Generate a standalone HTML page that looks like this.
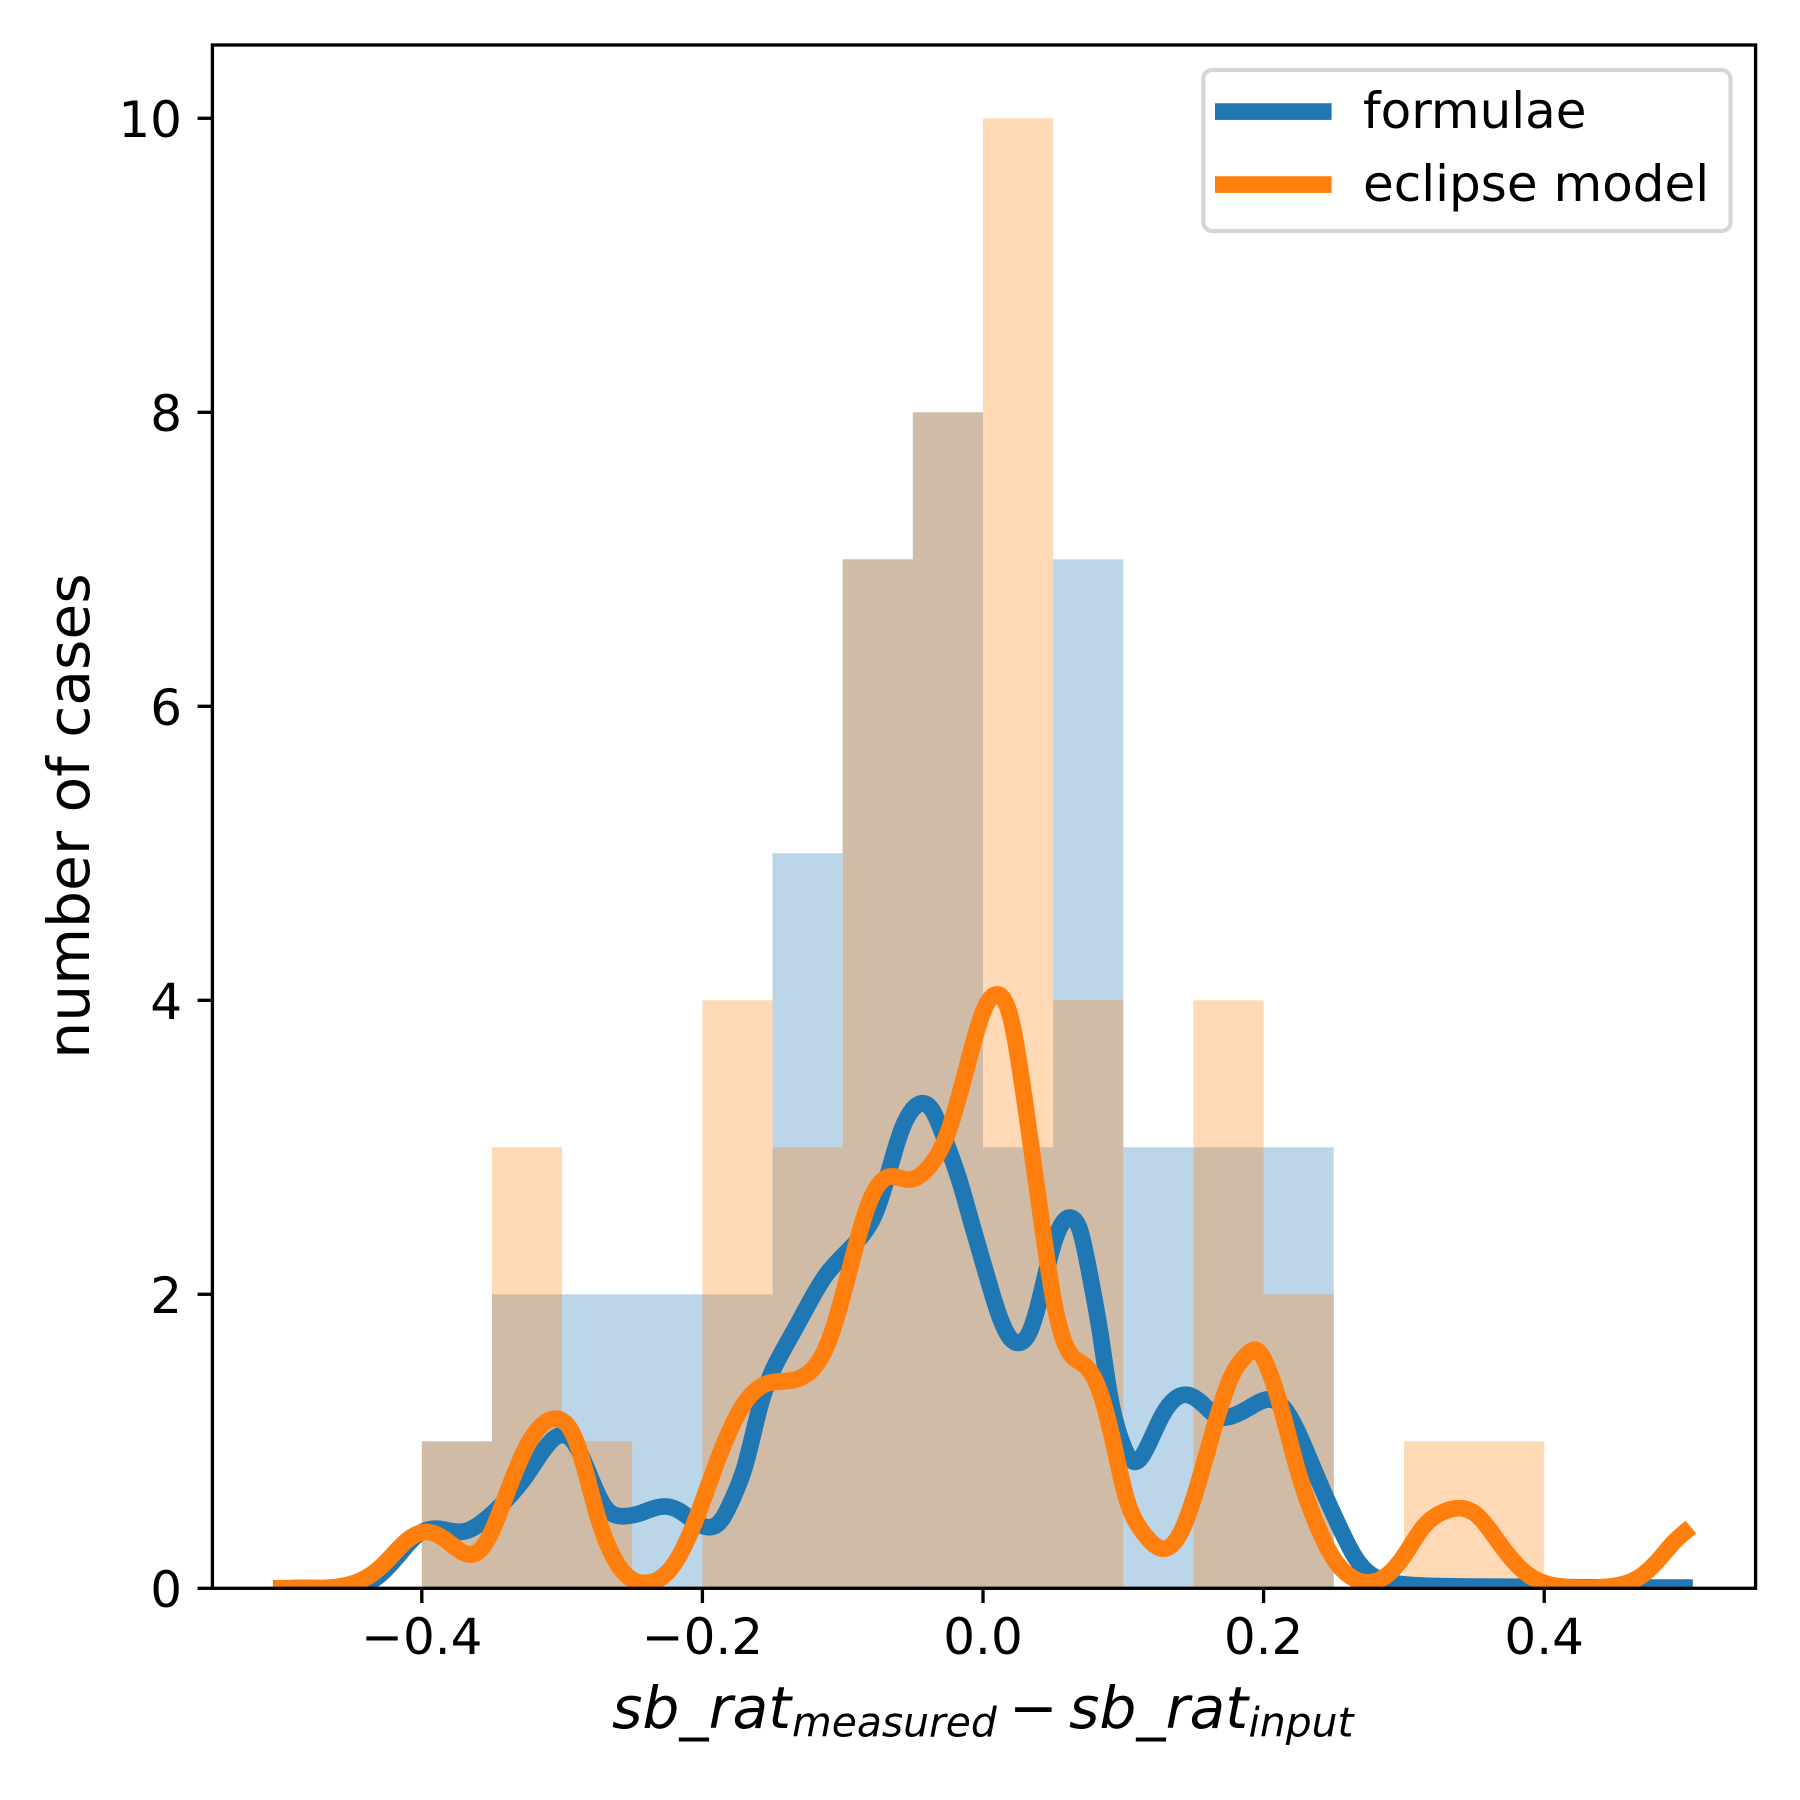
<!DOCTYPE html>
<html>
<head>
<meta charset="utf-8">
<title>Histogram of sb_rat residuals</title>
<style>
html,body{margin:0;padding:0;background:#fff}
svg{display:block}
text{font-family:"DejaVu Sans","Liberation Sans",sans-serif;fill:#000}
</style>
</head>
<body>
<svg id="chart" xmlns="http://www.w3.org/2000/svg" width="1800" height="1800" viewBox="0 0 1800 1800">
  <rect x="0" y="0" width="1800" height="1800" fill="#fff"/>
  <defs><clipPath id="plot-clip"><rect x="212.4" y="45" width="1543.2" height="1543.3"/></clipPath></defs>
  <g id="bars"></g>
  <g id="lines" clip-path="url(#plot-clip)"></g>
  <g id="axes"></g>
  <g>
    <rect x="1203.3" y="70" width="527.2" height="161" rx="9" ry="9" fill="#fff" stroke="#d6d6d6" stroke-width="4.2"/>
    <rect x="1215" y="103.2" width="116.6" height="16.7" fill="#1f77b4"/>
    <text x="1363" y="127.8" font-size="50">formulae</text>
    <rect x="1215" y="176.2" width="116.6" height="16.7" fill="#ff7f0e"/>
    <text x="1363" y="201" font-size="50">eclipse model</text>
  </g>
  <text x="89" y="816" font-size="58.33" text-anchor="middle" transform="rotate(-90 89 816)">number of cases</text>
  <g font-style="italic">
    <text x="612" y="1728" font-size="58.33">sb_rat</text>
    <text x="792" y="1736.5" font-size="40.8">measured</text>
    <text x="1009" y="1728" font-size="58.33" font-style="normal">−</text>
    <text x="1069" y="1728" font-size="58.33">sb_rat</text>
    <text x="1248.5" y="1736.5" font-size="40.8">input</text>
  </g>
</svg>
<script>
var binEdges = [-0.4,-0.35,-0.3,-0.25,-0.2,-0.15,-0.1,-0.05,0,0.05,0.1,0.15,0.2,0.25,0.3,0.35,0.4];
var formulaeCounts = [1,2,2,2,2,5,7,8,3,7,3,3,3,0,0,0];
var eclipseCounts = [1,3,1,0,4,3,7,8,10,4,0,4,2,0,1,1];

var formulaeX = [-0.5,-0.47,-0.445,-0.43,-0.416,-0.404,-0.389,-0.371,-0.357,-0.34,-0.326,-0.314,-0.302,-0.29,-0.28,-0.27,-0.257,-0.243,-0.23,-0.217,-0.205,-0.195,-0.186,-0.178,-0.17,-0.158,-0.148,-0.136,-0.124,-0.112,-0.1,-0.088,-0.076,-0.067,-0.058,-0.05,-0.043,-0.036,-0.027,-0.017,-0.008,0.002,0.011,0.018,0.026,0.033,0.04,0.049,0.057,0.063,0.069,0.076,0.084,0.09,0.097,0.108,0.119,0.128,0.137,0.146,0.157,0.167,0.177,0.19,0.204,0.215,0.226,0.238,0.252,0.266,0.277,0.291,0.31,0.35,0.42,0.5];
var formulaeY = [0,0,0.012,0.09,0.231,0.356,0.405,0.385,0.45,0.6,0.76,0.93,1.04,0.97,0.76,0.56,0.49,0.515,0.555,0.53,0.45,0.415,0.47,0.62,0.82,1.27,1.52,1.73,1.94,2.13,2.26,2.38,2.57,2.84,3.12,3.26,3.3,3.25,3.05,2.78,2.48,2.15,1.87,1.72,1.67,1.74,1.95,2.3,2.49,2.52,2.44,2.14,1.71,1.33,1.05,0.86,1.0,1.18,1.29,1.315,1.25,1.17,1.17,1.23,1.285,1.22,1.03,0.76,0.46,0.2,0.09,0.04,0.02,0.012,0.007,0.005];

var eclipseX = [-0.5,-0.47,-0.45,-0.428,-0.41,-0.397,-0.383,-0.368,-0.355,-0.34,-0.325,-0.305,-0.29,-0.275,-0.258,-0.238,-0.222,-0.205,-0.19,-0.172,-0.156,-0.14,-0.125,-0.11,-0.095,-0.08,-0.067,-0.052,-0.04,-0.025,-0.01,0,0.01,0.02,0.03,0.04,0.05,0.06,0.072,0.082,0.092,0.102,0.114,0.13,0.142,0.153,0.165,0.177,0.188,0.195,0.203,0.212,0.225,0.238,0.25,0.262,0.275,0.288,0.3,0.314,0.328,0.34,0.353,0.367,0.381,0.393,0.41,0.435,0.455,0.47,0.483,0.492,0.5];
var eclipseY = [0,0.002,0.03,0.156,0.33,0.383,0.33,0.233,0.3,0.63,0.97,1.154,1.0,0.5,0.13,0.039,0.14,0.46,0.85,1.23,1.385,1.41,1.46,1.68,2.17,2.65,2.8,2.78,2.85,3.1,3.6,3.92,4.04,3.87,3.3,2.62,1.98,1.63,1.52,1.37,1.03,0.62,0.38,0.27,0.4,0.7,1.1,1.44,1.59,1.62,1.5,1.24,0.78,0.43,0.2,0.08,0.04,0.09,0.22,0.42,0.52,0.545,0.49,0.32,0.155,0.065,0.015,0.005,0.025,0.09,0.21,0.31,0.38];

var xTickValues = [-0.4,-0.2,0,0.2,0.4];
var xTickLabels = ['−0.4','−0.2','0.0','0.2','0.4'];
var yTickValues = [0,2,4,6,8,10];
var yTickLabels = ['0','2','4','6','8','10'];

var NS = 'http://www.w3.org/2000/svg';
function sx(v) { return 983 + 1403 * v; }
function sy(v) { return 1588.3 - 147 * v; }
function make(tag, parent, attrs) {
  var el = document.createElementNS(NS, tag);
  for (var k in attrs) { el.setAttribute(k, attrs[k]); }
  parent.appendChild(el);
  return el;
}
function smoothPath(xs, ys) {
  var px = xs.map(sx), py = ys.map(sy), n = px.length;
  var h = [], M = new Array(n).fill(0), i;
  for (i = 0; i < n - 1; i++) { h.push(px[i + 1] - px[i]); }
  var diag = new Array(n).fill(1), rhs = new Array(n).fill(0);
  for (i = 1; i < n - 1; i++) {
    var m = h[i - 1] / diag[i - 1];
    diag[i] = 2 * (h[i - 1] + h[i]) - m * (i > 1 ? h[i - 1] : 0);
    rhs[i] = 6 * ((py[i + 1] - py[i]) / h[i] - (py[i] - py[i - 1]) / h[i - 1]) - m * (i > 1 ? rhs[i - 1] : 0);
  }
  for (i = n - 2; i > 0; i--) { M[i] = (rhs[i] - h[i] * M[i + 1]) / diag[i]; }
  var d = 'M' + px[0].toFixed(2) + ' ' + py[0].toFixed(2);
  for (var j = 0; j < n - 1; j++) {
    var s0 = (py[j + 1] - py[j]) / h[j] - h[j] * (2 * M[j] + M[j + 1]) / 6;
    var s1 = (py[j + 1] - py[j]) / h[j] + h[j] * (M[j] + 2 * M[j + 1]) / 6;
    var dx = h[j] / 3;
    d += 'C' + (px[j] + dx).toFixed(2) + ' ' + (py[j] + s0 * dx).toFixed(2) + ' ' +
      (px[j + 1] - dx).toFixed(2) + ' ' + (py[j + 1] - s1 * dx).toFixed(2) + ' ' +
      px[j + 1].toFixed(2) + ' ' + py[j + 1].toFixed(2);
  }
  return d;
}

var barsG = document.getElementById('bars');
var linesG = document.getElementById('lines');
var axesG = document.getElementById('axes');

formulaeCounts.forEach(function (c, i) {
  if (!c) { return; }
  var r = make('rect', barsG, {x: sx(binEdges[i]), y: sy(c), width: sx(binEdges[i + 1]) - sx(binEdges[i]), height: sy(0) - sy(c), fill: '#1f77b4', 'fill-opacity': 0.3});
  
  
});
eclipseCounts.forEach(function (c, i) {
  if (!c) { return; }
  var r = make('rect', barsG, {x: sx(binEdges[i]), y: sy(c), width: sx(binEdges[i + 1]) - sx(binEdges[i]), height: sy(0) - sy(c), fill: '#ff7f0e', 'fill-opacity': 0.3});
  
  
});

var lineF = make('path', linesG, {d: smoothPath(formulaeX, formulaeY), fill: 'none', stroke: '#1f77b4', 'stroke-width': 16.67, 'stroke-linecap': 'square', 'stroke-linejoin': 'round'});


var lineE = make('path', linesG, {d: smoothPath(eclipseX, eclipseY), fill: 'none', stroke: '#ff7f0e', 'stroke-width': 16.67, 'stroke-linecap': 'square', 'stroke-linejoin': 'round'});



xTickValues.forEach(function (v, i) {
  var t = make('line', axesG, {x1: sx(v), x2: sx(v), y1: 1588.3, y2: 1603, stroke: '#000', 'stroke-width': 3.33});
  
  
  var l = make('text', axesG, {x: sx(v), y: 1654, 'font-size': 50, 'text-anchor': 'middle'});
  l.textContent = xTickLabels[i];
  
  
});
yTickValues.forEach(function (v, i) {
  var t = make('line', axesG, {x1: 197.6, x2: 212.4, y1: sy(v), y2: sy(v), stroke: '#000', 'stroke-width': 3.33});
  
  
  var l = make('text', axesG, {x: 182, y: sy(v) + 18.5, 'font-size': 50, 'text-anchor': 'end'});
  l.textContent = yTickLabels[i];
  
  
});
var frame = make('rect', axesG, {x: 212.4, y: 45, width: 1543.2, height: 1543.3, fill: 'none', stroke: '#000', 'stroke-width': 3.33, 'stroke-linejoin': 'miter'});


</script>
</body>
</html>
